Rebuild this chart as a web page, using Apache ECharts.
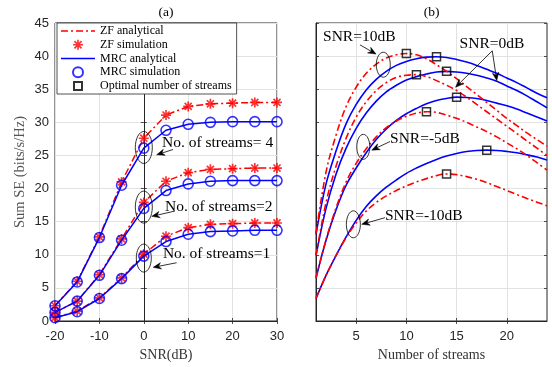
<!DOCTYPE html>
<html><head><meta charset="utf-8">
<script src="https://cdn.jsdelivr.net/npm/echarts@6/dist/echarts.min.js"></script>
<style>html,body{margin:0;padding:0;background:#fff}#c{width:552px;height:367px}</style>
</head><body><div id="c"></div>
<script>
// ---------- Panel (a) data ----------
const snrDb = [-20, -15, -10, -5, 0, 5, 10, 15, 20, 25, 30];
const zfStreams4  = [2.3, 6.0, 12.7, 21.0, 27.6, 31.1, 32.4, 32.8, 32.9, 33.0, 33.0];
const mrcStreams4 = [2.3, 5.9, 12.6, 20.5, 26.1, 28.8, 29.7, 30.0, 30.1, 30.1, 30.1];
const zfStreams2  = [1.3, 3.0, 7.0, 12.4, 17.9, 21.1, 22.4, 22.9, 23.0, 23.1, 23.1];
const mrcStreams2 = [1.3, 3.0, 6.9, 12.2, 17.0, 19.7, 20.7, 21.1, 21.2, 21.2, 21.2];
const zfStreams1  = [0.5, 1.5, 3.5, 6.5, 10.1, 12.8, 14.1, 14.6, 14.7, 14.8, 14.8];
const mrcStreams1 = [0.5, 1.4, 3.4, 6.4, 9.8, 12.0, 13.1, 13.5, 13.6, 13.7, 13.7];

// ---------- Panel (b) data ----------
const numStreams = [1,2,3,4,5,6,7,8,9,10,11,12,13,14,15,16,17,18,19,20,21,22,23,24];
const zfSnr10   = [13.2, 22.5, 28.1, 32.4, 35.3, 37.4, 38.8, 39.7, 40.2, 40.4, 40.2, 39.6, 38.7, 37.7, 36.6, 35.4, 34.2, 33.0, 31.8, 30.6, 29.5, 28.4, 27.4, 26.4];
const mrcSnr10  = [13.1, 20.7, 25.7, 29.8, 32.7, 34.9, 36.5, 37.7, 38.6, 39.2, 39.6, 39.85, 39.9, 39.8, 39.5, 39.1, 38.6, 38.0, 37.4, 36.7, 36.0, 35.2, 34.4, 33.7];
const zfSnr0    = [9.9, 17.9, 23.4, 27.6, 30.8, 33.1, 34.8, 36.0, 36.8, 37.1, 37.2, 36.9, 36.3, 35.6, 34.8, 33.8, 32.7, 31.6, 30.5, 29.4, 28.3, 27.2, 26.1, 25.0];
const mrcSnr0   = [9.9, 17.0, 22.2, 26.1, 29.1, 31.4, 33.2, 34.6, 35.6, 36.4, 36.9, 37.3, 37.6, 37.7, 37.6, 37.4, 37.1, 36.7, 36.2, 35.5, 34.8, 34.0, 33.1, 32.2];
const zfSnrM5   = [6.5, 12.3, 17.1, 21.0, 23.8, 26.0, 27.8, 29.2, 30.2, 30.9, 31.4, 31.6, 31.5, 31.1, 30.6, 30.0, 29.3, 28.6, 27.8, 26.9, 26.0, 25.0, 23.9, 22.8];
const mrcSnrM5  = [6.5, 12.2, 16.8, 20.5, 23.1, 25.4, 27.4, 29.0, 30.3, 31.3, 32.1, 32.8, 33.3, 33.6, 33.8, 33.75, 33.6, 33.3, 32.9, 32.5, 32.0, 31.4, 30.8, 30.2];
const zfSnrM10  = [3.4, 6.9, 9.9, 12.6, 14.8, 16.6, 17.9, 18.9, 19.7, 20.4, 21.0, 21.5, 21.95, 22.2, 22.1, 21.8, 21.4, 20.9, 20.3, 19.7, 19.1, 18.5, 17.95, 17.4];
const mrcSnrM10 = [3.4, 6.9, 9.9, 12.7, 15.2, 17.3, 18.9, 20.2, 21.3, 22.3, 23.1, 23.8, 24.4, 24.9, 25.3, 25.6, 25.75, 25.8, 25.75, 25.6, 25.4, 25.1, 24.75, 24.3];
// optimal number of streams for each curve (same order as the curve list below)
const optimalStreams = [10, 13, 11, 14, 12, 15, 14, 18];

const xTicksB = [5, 10, 15, 20];
const legendNames = ['ZF analytical', 'ZF simulation', 'MRC analytical', 'MRC simulation', 'Optimal number of streams'];

// ---------- styling ----------
const RED = '#ff0000', BLUE = '#0000ff', AX = '#262626', GRIDC = '#e2e2e2';
const SERIF = '"Liberation Serif", "DejaVu Serif", serif';
const SANS = '"Liberation Sans", Arial, sans-serif';
const DASHDOT = [7, 3, 2, 3];

// asterisk symbol (8 arms)
function asteriskPath() {
  const L = 5, w = 0.85; let p = '';
  [0, 45, 90, 135].forEach(a => {
    const r = a * Math.PI / 180, dx = Math.cos(r), dy = Math.sin(r), nx = -dy, ny = dx;
    const pts = [[-L*dx - w*nx, -L*dy - w*ny], [L*dx - w*nx, L*dy - w*ny], [L*dx + w*nx, L*dy + w*ny], [-L*dx + w*nx, -L*dy + w*ny]];
    p += 'M' + pts.map(q => q[0].toFixed(3) + ',' + q[1].toFixed(3)).join('L') + 'Z';
  });
  return 'path://' + p;
}
const STAR = asteriskPath();
const ICON_DASHDOT = 'path://M0,0h7v1.5h-7z M10,0h2v1.5h-2z M15,0h7v1.5h-7z M25,0h2v1.5h-2z M30,0h4v1.5h-4z';
const ICON_SOLID = 'path://M0,0h34v1.6h-34z';
const ICON_SQUARE = 'path://M-1,-1 M0,0h8v8h-8z M9,9';

const zip = (xs, ys) => xs.map((x, i) => [x, ys[i]]);

const series = [];
const groupsA = [[zfStreams1, mrcStreams1], [zfStreams2, mrcStreams2], [zfStreams4, mrcStreams4]];
groupsA.forEach(([zf]) => {
  series.push({ name: 'ZF analytical', type: 'line', xAxisIndex: 0, yAxisIndex: 0, data: zip(snrDb, zf), symbol: 'none',
    lineStyle: { color: RED, width: 1.5, type: DASHDOT }, itemStyle: { color: RED }, z: 2 });
  series.push({ name: 'ZF simulation', type: 'scatter', xAxisIndex: 0, yAxisIndex: 0, data: zip(snrDb, zf), symbol: STAR, symbolSize: 10,
    itemStyle: { color: RED }, z: 3 });
});
groupsA.forEach(([, mrc]) => {
  series.push({ name: 'MRC analytical', type: 'line', xAxisIndex: 0, yAxisIndex: 0, data: zip(snrDb, mrc), symbol: 'none',
    lineStyle: { color: BLUE, width: 1.5 }, itemStyle: { color: BLUE }, z: 4 });
  series.push({ name: 'MRC simulation', type: 'scatter', xAxisIndex: 0, yAxisIndex: 0, data: zip(snrDb, mrc), symbol: 'circle', symbolSize: 10,
    itemStyle: { color: 'rgba(0,0,0,0)', borderColor: BLUE, borderWidth: 1.6 }, z: 5 });
});

const curvesB = [
  { v: zfSnr10, zf: true }, { v: mrcSnr10, zf: false },
  { v: zfSnr0, zf: true }, { v: mrcSnr0, zf: false },
  { v: zfSnrM5, zf: true }, { v: mrcSnrM5, zf: false },
  { v: zfSnrM10, zf: true }, { v: mrcSnrM10, zf: false }
];
curvesB.filter(c => !c.zf).forEach(c => series.push({ type: 'line', xAxisIndex: 2, yAxisIndex: 2, data: zip(numStreams, c.v),
  symbol: 'none', smooth: 0.35, lineStyle: { color: BLUE, width: 1.6 }, z: 2 }));
curvesB.filter(c => c.zf).forEach(c => series.push({ type: 'line', xAxisIndex: 2, yAxisIndex: 2, data: zip(numStreams, c.v),
  symbol: 'none', smooth: 0.35, lineStyle: { color: RED, width: 1.6, type: DASHDOT }, z: 3 }));
series.push({ name: 'Optimal number of streams', type: 'scatter', xAxisIndex: 2, yAxisIndex: 2,
  data: curvesB.map((c, i) => [optimalStreams[i], c.v[numStreams.indexOf(optimalStreams[i])]]),
  symbol: 'rect', symbolSize: 8, itemStyle: { color: 'rgba(0,0,0,0)', borderColor: '#000', borderWidth: 1.5 }, z: 6 });

const tickStyle = { show: true, inside: true, length: 3, lineStyle: { color: AX, width: 0.8 } };
const labelStyle = { color: AX, fontFamily: SANS, fontSize: 13 };
const splitStyle = { show: true, lineStyle: { color: GRIDC, width: 1 } };
const nameStyle = { fontFamily: SERIF, fontSize: 14, color: '#333' };

const option = {
  animation: false,
  backgroundColor: '#fff',
  grid: [
    { left: 55, top: 23, width: 222, height: 299, show: true, borderColor: AX, borderWidth: 1, backgroundColor: 'transparent' },
    { left: 316, top: 23, width: 231, height: 299, show: true, borderColor: AX, borderWidth: 1, backgroundColor: 'transparent' }
  ],
  xAxis: [
    { gridIndex: 0, type: 'value', min: -20, max: 30, interval: 10, position: 'bottom',
      axisLine: { lineStyle: { color: AX } }, axisTick: tickStyle, axisLabel: Object.assign({ margin: 9 }, labelStyle), splitLine: splitStyle,
      name: 'SNR(dB)', nameLocation: 'middle', nameGap: 27, nameTextStyle: nameStyle },
    { gridIndex: 0, type: 'value', min: -20, max: 30, interval: 10, position: 'top',
      axisLine: { show: false }, axisTick: tickStyle, axisLabel: { show: false }, splitLine: { show: false } },
    { gridIndex: 1, type: 'value', min: 1, max: 24, position: 'bottom',
      axisLine: { lineStyle: { color: AX } }, axisTick: Object.assign({ customValues: xTicksB }, tickStyle),
      axisLabel: Object.assign({ margin: 9, customValues: xTicksB }, labelStyle), splitLine: splitStyle,
      name: 'Number of streams', nameLocation: 'middle', nameGap: 27, nameTextStyle: nameStyle },
    { gridIndex: 1, type: 'value', min: 1, max: 24, position: 'top',
      axisLine: { show: false }, axisTick: Object.assign({ customValues: xTicksB }, tickStyle), axisLabel: { show: false }, splitLine: { show: false } }
  ],
  yAxis: [
    { gridIndex: 0, type: 'value', min: 0, max: 45, interval: 5, position: 'left',
      axisLine: { show: true, lineStyle: { color: AX } }, axisTick: tickStyle, axisLabel: Object.assign({ margin: 6 }, labelStyle), splitLine: splitStyle,
      name: 'Sum SE (bits/s/Hz)', nameLocation: 'middle', nameGap: 27, nameTextStyle: { fontFamily: SERIF, fontSize: 14.5, color: '#555' } },
    { gridIndex: 0, type: 'value', min: 0, max: 45, interval: 5, position: 'right',
      axisLine: { show: false }, axisTick: tickStyle, axisLabel: { show: false }, splitLine: { show: false } },
    { gridIndex: 1, type: 'value', min: 0, max: 45, interval: 5, position: 'left',
      axisLine: { show: true, lineStyle: { color: AX } }, axisTick: tickStyle, axisLabel: { show: false }, splitLine: splitStyle },
    { gridIndex: 1, type: 'value', min: 0, max: 45, interval: 5, position: 'right',
      axisLine: { show: false }, axisTick: tickStyle, axisLabel: { show: false }, splitLine: { show: false } }
  ],
  legend: {
    data: [
      { name: legendNames[0], icon: ICON_DASHDOT },
      { name: legendNames[1], icon: STAR },
      { name: legendNames[2], icon: ICON_SOLID },
      { name: legendNames[3], icon: 'circle' },
      { name: legendNames[4], icon: ICON_SQUARE }
    ],
    orient: 'vertical', left: 57, top: 23, padding: [2, 5, 2, 4], itemGap: 1.75,
    itemWidth: 34, itemHeight: 10, backgroundColor: '#fff', borderColor: AX, borderWidth: 0.8, borderRadius: 0,
    selectedMode: false, textStyle: { fontFamily: SERIF, fontSize: 12, color: '#000' }
  },
  series: series
};

const chart = echarts.init(document.getElementById('c'), null, { renderer: 'canvas' });
chart.setOption(option);

// ---------- annotations (positions in data coordinates) ----------
const annA = {
  ellipses: [[0, 26.2, 8.5, 16], [0, 17.2, 8.5, 16], [0, 9.5, 7.5, 14]],
  texts: [['No. of streams= 4', 4.1, 26.9], ['No. of streams=2', 4.8, 17.3], ['No. of streams=1', 4.3, 10.1]],
  arrows: [[6.6, 25.9, 2.9, 25.1], [7.0, 16.6, 1.8, 15.8], [7.4, 8.8, 2.1, 8.1]]
};
const annB = {
  ellipses: [[7.7, 38.7, 7, 12.5], [5.71, 26.3, 6.5, 12.5], [4.72, 14.6, 7, 13.5]],
  texts: [['SNR=10dB', 1.7, 42.9], ['SNR=0dB', 15.3, 41.9], ['SNR=-5dB', 8.37, 27.5], ['SNR=-10dB', 7.87, 15.85]],
  arrows: [[5.38, 41.7, 6.98, 40.3], [18.55, 40.8, 14.9, 35.3], [18.55, 40.8, 19.0, 36.3], [8.37, 27.1, 6.55, 25.8], [7.87, 15.6, 5.55, 14.6]]
};
function toPx(panel, x, y) {
  const idx = panel === 0 ? 0 : 2;
  return chart.convertToPixel({ xAxisIndex: idx, yAxisIndex: idx }, [x, y]);
}
const g = [];
function addAnn(panel, ann) {
  ann.ellipses.forEach(e => {
    const p = toPx(panel, e[0], e[1]);
    g.push({ type: 'ellipse', shape: { cx: p[0], cy: p[1], rx: e[2], ry: e[3] }, style: { fill: 'none', stroke: '#000', lineWidth: 0.8 }, z: 100 });
  });
  ann.texts.forEach(t => {
    const p = toPx(panel, t[1], t[2]);
    g.push({ type: 'text', x: p[0], y: p[1], style: { text: t[0], fill: '#000', fontFamily: SERIF, fontSize: 15.5, align: 'left', verticalAlign: 'middle' }, z: 100 });
  });
  ann.arrows.forEach(a => {
    const s = toPx(panel, a[0], a[1]), e = toPx(panel, a[2], a[3]);
    const dx = e[0] - s[0], dy = e[1] - s[1], len = Math.hypot(dx, dy), ux = dx / len, uy = dy / len;
    const hl = 8, hw = 3.2;
    const bx = e[0] - ux * hl, by = e[1] - uy * hl;
    const nx = bx + ux * 2.5, ny = by + uy * 2.5;
    g.push({ type: 'line', shape: { x1: s[0], y1: s[1], x2: e[0] - ux * 4, y2: e[1] - uy * 4 }, style: { stroke: '#000', lineWidth: 0.8 }, z: 100 });
    g.push({ type: 'polygon', shape: { points: [[e[0], e[1]], [bx - uy * hw, by + ux * hw], [nx, ny], [bx + uy * hw, by - ux * hw]] },
      style: { fill: '#000', stroke: '#000', lineWidth: 0.5 }, z: 100 });
  });
}
addAnn(0, annA);
addAnn(1, annB);
const ta = toPx(0, 5, 45), tb = toPx(1, 12.5, 45);
g.push({ type: 'text', x: ta[0], y: 12, style: { text: '(a)', fill: '#000', fontFamily: SERIF, fontSize: 13.5, align: 'center', verticalAlign: 'middle' } });
g.push({ type: 'text', x: tb[0], y: 12, style: { text: '(b)', fill: '#000', fontFamily: SERIF, fontSize: 13.5, align: 'center', verticalAlign: 'middle' } });
chart.setOption({ graphic: g });
</script></body></html>
